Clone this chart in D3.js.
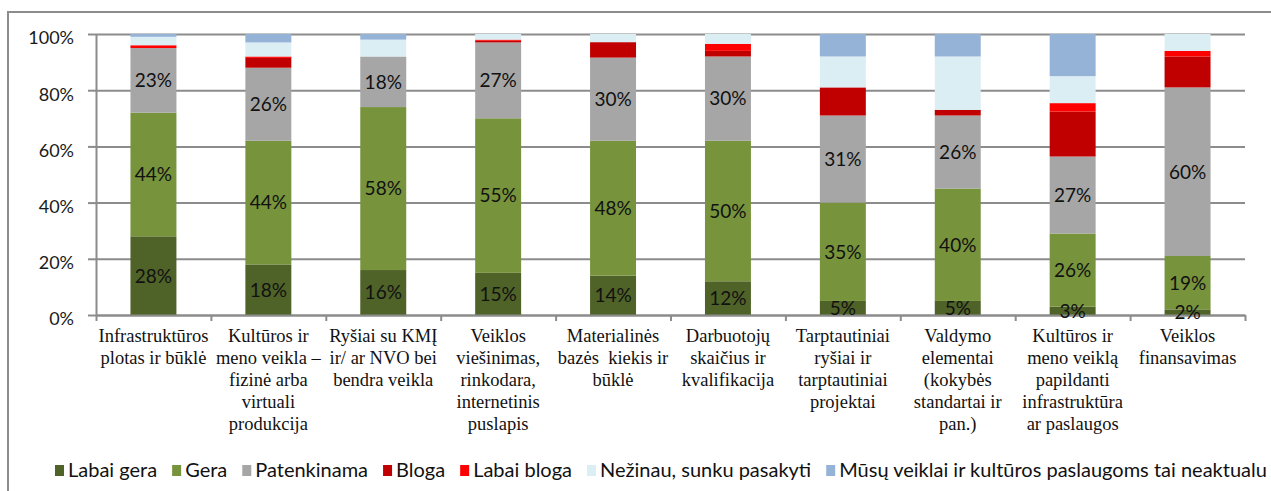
<!DOCTYPE html>
<html>
<head>
<meta charset="utf-8">
<script src="https://cdn.jsdelivr.net/npm/d3@7"></script>
<style>
  body { margin: 0; background: #fff; }
  svg { display: block; }
  .category-labels text { font-family: "Liberation Serif", "Times New Roman", "DejaVu Serif", serif; }
</style>
</head>
<body>
<div id="chart"></div>
<script>

// category labels, one entry per bar, split the way the picture wraps them
const categories = [
  ["Infrastruktūros", "plotas ir būklė"],
  ["Kultūros ir", "meno veikla –", "fizinė arba", "virtuali", "produkcija"],
  ["Ryšiai su KMĮ", "ir/ ar NVO bei", "bendra veikla"],
  ["Veiklos", "viešinimas,", "rinkodara,", "internetinis", "puslapis"],
  ["Materialinės", "bazės  kiekis ir", "būklė"],
  ["Darbuotojų", "skaičius ir", "kvalifikacija"],
  ["Tarptautiniai", "ryšiai ir", "tarptautiniai", "projektai"],
  ["Valdymo", "elementai", "(kokybės", "standartai ir", "pan.)"],
  ["Kultūros ir", "meno veiklą", "papildanti", "infrastruktūra", "ar paslaugos"],
  ["Veiklos", "finansavimas"]
]

const seriesNames = [
  "Labai gera",
  "Gera",
  "Patenkinama",
  "Bloga",
  "Labai bloga",
  "Nežinau, sunku pasakyti",
  "Mūsų veiklai ir kultūros paslaugoms tai neaktualu"
]

const seriesColors = ["#4f6228", "#77933c", "#a6a6a6", "#c00000", "#ff0000", "#dbeef4", "#95b3d7"]

// percentages per series (same order as categories)
const labaiGera   = [28, 18, 16, 15, 14, 12, 5, 5, 3, 2]
const gera        = [44, 44, 58, 55, 48, 50, 35, 40, 26, 19]
const patenkinama = [23, 26, 18, 27, 29.6, 30, 31, 26, 27.4, 60]
const bloga       = [0, 3.5, 0, 0.6, 5.5, 2, 10, 2, 16, 11]
const labaiBloga  = [1, 0.5, 0, 0.4, 0, 2.5, 0, 0, 3, 2]
const nezinau     = [3, 5, 6, 2, 2.9, 3.5, 11, 19, 9.6, 6]
const neaktualu   = [1, 3, 2, 0, 0, 0, 8, 8, 15, 0]

const seriesValues = [labaiGera, gera, patenkinama, bloga, labaiBloga, nezinau, neaktualu]
const labelledSeries = 3   // only the first three get % labels

const yTicks = [0, 20, 40, 60, 80, 100]

const width = 1271, height = 491
const margin = {top: 34, right: 26, bottom: 176, left: 96}
const plotRight = width - margin.right
const plotBottom = height - margin.bottom

const gridColor = "#8c8c8c"
const sansFont = "Lato, 'Open Sans', sans-serif"

const table = categories.map((c, i) => {
  const row = {i}
  seriesNames.forEach((s, j) => row[s] = seriesValues[j][i])
  return row
})

const stacked = d3.stack().keys(seriesNames)(table)

const x = d3.scaleBand()
  .domain(d3.range(categories.length))
  .range([margin.left, plotRight])
  .paddingInner(0.6)
  .paddingOuter(0.3)

// band edges, for the tick marks under the axis
const xEdge = d3.scaleLinear()
  .domain([0, categories.length])
  .range([margin.left, plotRight])

const y = d3.scaleLinear()
  .domain([0, 100])
  .range([plotBottom, margin.top])

const svg = d3.select("#chart").append("svg")
  .attr("width", width)
  .attr("height", height)

// outer frame of the chart object
svg.append("rect")
  .attr("x", 8)
  .attr("y", 12)
  .attr("width", width + 100)
  .attr("height", height + 100)
  .attr("fill", "none")
  .attr("stroke", gridColor)
  .attr("stroke-width", 2)

// gridlines
svg.append("g")
  .attr("class", "grid")
  .attr("transform", `translate(${margin.left},0)`)
  .call(d3.axisLeft(y).tickValues(yTicks).tickSize(-(plotRight - margin.left)).tickFormat(""))
  .call(g => g.select(".domain").remove())
  .selectAll("line")
    .attr("stroke", gridColor)
    .attr("stroke-width", 2)

// y axis
svg.append("g")
  .attr("class", "y-axis")
  .attr("transform", `translate(${margin.left},0)`)
  .call(d3.axisLeft(y).tickValues(yTicks).tickSize(8).tickSizeOuter(0).tickPadding(14).tickFormat(d => d + "%"))
  .call(g => g.selectAll("line, .domain").attr("stroke", gridColor).attr("stroke-width", 2))
  .selectAll("text")
    .attr("font-family", sansFont)
    .attr("font-size", "18px")
    .attr("fill", "#1a1a1a")
    .attr("dy", "0.55em")

// bars
const layers = svg.append("g")
  .attr("class", "bars")
  .selectAll("g")
  .data(stacked)
  .join("g")
    .attr("fill", (d, i) => seriesColors[i])

layers.selectAll("rect")
  .data(d => d)
  .join("rect")
    .attr("x", d => x(d.data.i))
    .attr("y", d => y(d[1]))
    .attr("width", x.bandwidth())
    .attr("height", d => y(d[0]) - y(d[1]))

// x axis with ticks between categories
svg.append("g")
  .attr("class", "x-axis")
  .attr("transform", `translate(0,${plotBottom})`)
  .call(d3.axisBottom(xEdge).tickValues(d3.range(categories.length + 1)).tickSize(6).tickSizeOuter(0).tickFormat(""))
  .call(g => g.selectAll("line, .domain").attr("stroke", gridColor).attr("stroke-width", 2))

// value labels
svg.append("g")
  .attr("class", "value-labels")
  .selectAll("g")
  .data(stacked.slice(0, labelledSeries))
  .join("g")
  .selectAll("text")
  .data(d => d)
  .join("text")
    .attr("x", d => x(d.data.i) + x.bandwidth() / 2)
    .attr("y", d => y((d[0] + d[1]) / 2))
    .attr("dy", "0.36em")
    .attr("text-anchor", "middle")
    .attr("font-family", sansFont)
    .attr("font-size", "19px")
    .attr("fill", "#111")
    .text(d => Math.round(d[1] - d[0]) + "%")

// category labels
svg.append("g")
  .attr("class", "category-labels")
  .selectAll("text")
  .data(categories)
  .join("text")
    .attr("text-anchor", "middle")
    .attr("font-size", "18.5px")
    .attr("fill", "#111")
    .attr("y", plotBottom + 27)
    .each(function(lines, i) {
      d3.select(this).selectAll("tspan")
        .data(lines)
        .join("tspan")
          .attr("x", x(i) + x.bandwidth() / 2)
          .attr("dy", (l, j) => j === 0 ? 0 : 22)
          .style("white-space", "pre")
          .text(l => l)
    })

// legend
const legend = svg.append("g")
  .attr("class", "legend")
  .attr("transform", `translate(55,${height - 14})`)

let legendX = 0
seriesNames.forEach((name, i) => {
  const item = legend.append("g").attr("transform", `translate(${legendX},0)`)
  item.append("rect")
    .attr("x", 0)
    .attr("y", -12)
    .attr("width", 9)
    .attr("height", 11)
    .attr("fill", seriesColors[i])
  const t = item.append("text")
    .attr("x", 13)
    .attr("font-family", sansFont)
    .attr("font-size", "20px")
    .attr("fill", "#111")
    .text(name)
  legendX += 13 + t.node().getComputedTextLength() + 15
})

</script>
</body>
</html>
